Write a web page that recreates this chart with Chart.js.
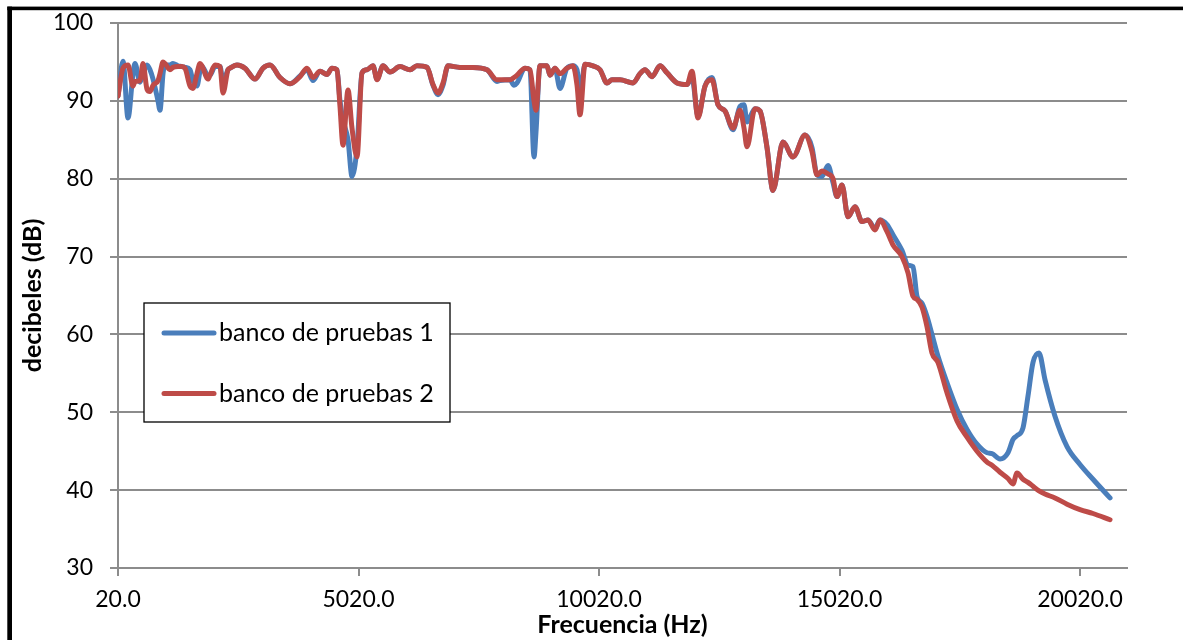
<!DOCTYPE html>
<html>
<head>
<meta charset="utf-8">
<script src="https://cdn.jsdelivr.net/npm/chart.js@4/dist/chart.umd.min.js"></script>
<style>
  html, body { margin: 0; padding: 0; background: #fff; }
  canvas { display: block; }
</style>
</head>
<body>
<canvas id="grafico" width="1183" height="640"></canvas>
<script>
// Frecuencia de cada medición (Hz)
const frecuencias = [
  20, 124, 228, 332, 373, 477, 540, 623, 685, 748,
  852, 893, 956, 997, 1101, 1163, 1267, 1351, 1413, 1517,
  1579, 1662, 1725, 1766, 1891, 1933, 2037, 2141, 2203, 2307,
  2348, 2494, 2660, 2868, 3035, 3180, 3388, 3596, 3804, 3949,
  4074, 4220, 4365, 4469, 4573, 4635, 4698, 4802, 4885, 4989,
  5093, 5197, 5321, 5405, 5529, 5675, 5883, 6091, 6236, 6444,
  6569, 6673, 6777, 6881, 7130, 7400, 7692, 7899, 7962, 8170,
  8253, 8315, 8482, 8585, 8669, 8710, 8793, 8939, 9001, 9105,
  9209, 9355, 9479, 9563, 9625, 9729, 9895, 10041, 10186, 10290,
  10457, 10727, 10872, 10976, 11122, 11288, 11434, 11642, 11850, 11953,
  12078, 12224, 12369, 12494, 12640, 12806, 12951, 13035, 13097, 13263,
  13367, 13513, 13637, 13845, 14053, 14303, 14448, 14552, 14656, 14781,
  14885, 14968, 15072, 15197, 15342, 15488, 15613, 15758, 15862, 16008,
  16132, 16319, 16444, 16548, 16631, 16735, 16839, 16943, 17068, 17255,
  17463, 17671, 17879, 18087, 18190, 18357, 18523, 18627, 18710, 18835,
  18939, 19043, 19168, 19292, 19500, 19750, 20020, 20290, 20644
];

// Nivel medido en el banco de pruebas 1 (dB)
const banco1 = [
  90.6, 95.1, 87.8, 93.5, 94.8, 92.4, 93.5, 94.6, 94.0, 92.8,
  90.0, 88.8, 93.5, 94.6, 94.6, 94.8, 94.5, 94.4, 94.3, 94.0,
  92.5, 91.9, 93.8, 94.4, 93.3, 93.3, 94.4, 94.4, 92.5, 94.0,
  94.2, 94.6, 94.2, 92.8, 94.2, 94.6, 93.0, 92.2, 93.2, 94.0,
  92.6, 93.8, 93.4, 94.2, 94.0, 90.0, 87.5, 85.0, 80.3, 84.0,
  93.6, 94.0, 94.5, 92.8, 94.5, 93.7, 94.4, 94.0, 94.5, 94.3,
  92.0, 90.8, 92.0, 94.5, 94.3, 94.3, 94.0, 92.5, 92.6, 92.7,
  92.0, 92.3, 94.2, 94.0, 82.8, 86.0, 94.5, 94.5, 93.3, 94.2,
  91.6, 94.2, 94.5, 94.0, 91.0, 94.7, 94.5, 94.0, 92.3, 92.7,
  92.7, 92.3, 93.5, 94.0, 93.1, 94.5, 93.6, 92.3, 92.1, 93.0,
  88.0, 91.9, 93.0, 89.5, 88.7, 86.3, 89.3, 89.5, 87.3, 89.0,
  88.7, 84.0, 78.5, 84.7, 82.8, 85.6, 84.0, 80.5, 80.3, 81.7,
  79.5, 77.7, 79.2, 75.1, 76.4, 74.5, 74.7, 73.6, 74.7, 74.1,
  72.8, 70.8, 68.9, 68.7, 64.9, 64.0, 62.3, 60.0, 57.2, 53.8,
  50.4, 47.8, 45.9, 44.8, 44.7, 44.0, 44.8, 46.5, 47.0, 48.0,
  52.1, 56.4, 57.6, 54.2, 49.5, 45.6, 43.3, 41.4, 39.0
];

// Nivel medido en el banco de pruebas 2 (dB)
const banco2 = [
  90.6, 94.2, 94.6, 91.9, 92.5, 92.6, 94.8, 91.5, 91.2, 92.0,
  92.6, 93.5, 95.0, 94.8, 94.0, 94.3, 94.4, 94.4, 94.2, 91.9,
  91.6, 93.5, 94.8, 94.5, 92.8, 93.3, 94.6, 94.4, 91.0, 94.0,
  94.2, 94.6, 94.2, 92.8, 94.2, 94.6, 93.0, 92.2, 93.1, 94.2,
  93.0, 93.8, 93.4, 94.2, 94.0, 89.3, 84.3, 91.4, 86.5, 82.8,
  93.6, 94.0, 94.5, 92.7, 94.5, 93.7, 94.4, 94.0, 94.5, 94.3,
  92.1, 91.0, 92.3, 94.5, 94.3, 94.3, 94.0, 92.7, 92.7, 92.7,
  93.0, 93.3, 94.2, 94.0, 90.0, 88.8, 94.5, 94.5, 93.3, 94.2,
  93.5, 94.2, 94.5, 92.0, 88.2, 94.7, 94.5, 94.0, 92.3, 92.7,
  92.7, 92.3, 93.5, 94.0, 93.1, 94.5, 93.6, 92.3, 92.1, 93.8,
  87.8, 91.9, 92.7, 89.5, 88.7, 86.5, 88.8, 86.5, 84.1, 89.0,
  88.7, 84.0, 78.5, 84.7, 82.8, 85.6, 83.5, 80.5, 81.0, 80.6,
  80.0, 77.7, 79.2, 75.1, 76.4, 74.5, 74.7, 73.4, 74.7, 73.2,
  71.5, 70.0, 67.9, 64.9, 64.5, 63.5, 61.0, 57.6, 56.4, 52.5,
  48.9, 46.8, 45.0, 43.6, 43.2, 42.3, 41.5, 40.8, 42.2, 41.4,
  41.0, 40.5, 39.9, 39.5, 39.0, 38.2, 37.5, 37.0, 36.2
];

// Marcas del eje de frecuencias
const marcasFrecuencia = [20, 5020, 10020, 15020, 20020];
const nombresSeries = ['banco de pruebas 1', 'banco de pruebas 2'];

const fuente = 'Lato, "Open Sans", "DejaVu Sans", sans-serif';
const gris = '#8c8c8c';

const aPuntos = (valores) => frecuencias.map((f, i) => ({ x: f, y: valores[i] }));

// Marco negro del gráfico (borde superior e izquierdo)
const marco = {
  id: 'marco',
  beforeDraw(chart) {
    const ctx = chart.ctx;
    ctx.save();
    ctx.fillStyle = '#fff';
    ctx.fillRect(0, 0, chart.width, chart.height);
    ctx.fillStyle = '#000';
    ctx.fillRect(7.3, 6.6, chart.width - 7.3, 3.6);
    ctx.fillRect(7.3, 6.6, 4.7, chart.height - 6.6);
    ctx.restore();
  }
};

// Leyenda en recuadro dentro del área de trazado
const leyenda = {
  id: 'leyenda',
  afterDatasetsDraw(chart) {
    const ctx = chart.ctx;
    ctx.save();
    ctx.fillStyle = '#fff';
    ctx.fillRect(144, 303, 306, 119);
    ctx.strokeStyle = '#000';
    ctx.lineWidth = 1.3;
    ctx.strokeRect(144, 303, 306, 119);
    chart.data.datasets.forEach((ds, i) => {
      const y = 333 + i * 60.5;
      ctx.strokeStyle = ds.borderColor;
      ctx.lineWidth = 5;
      ctx.lineCap = 'round';
      ctx.beginPath();
      ctx.moveTo(164, y);
      ctx.lineTo(214, y);
      ctx.stroke();
      ctx.fillStyle = '#000';
      ctx.font = '25px ' + fuente;
      ctx.textBaseline = 'middle';
      ctx.fillText(ds.label, 219, y);
    });
    ctx.restore();
  }
};

new Chart(document.getElementById('grafico'), {
  type: 'line',
  data: {
    datasets: [
      {
        label: nombresSeries[0],
        data: aPuntos(banco1),
        borderColor: '#4A7EBB',
        borderWidth: 5,
        order: 1
      },
      {
        label: nombresSeries[1],
        data: aPuntos(banco2),
        borderColor: '#BE4B48',
        borderWidth: 5,
        order: 0
      }
    ]
  },
  options: {
    responsive: false,
    animation: false,
    devicePixelRatio: 1,
    layout: { padding: { left: 0, top: 23, right: 56, bottom: 0 } },
    elements: {
      point: { radius: 0 },
      line: { cubicInterpolationMode: 'monotone', borderCapStyle: 'round', borderJoinStyle: 'round', fill: false }
    },
    plugins: {
      legend: { display: false },
      tooltip: { enabled: false }
    },
    scales: {
      x: {
        type: 'linear',
        min: 20,
        max: 20997,
        afterBuildTicks: (s) => { s.ticks = marcasFrecuencia.map(v => ({ value: v })); },
        afterFit: (s) => { s.height = 72; },
        ticks: {
          callback: (v) => Number(v).toFixed(1),
          font: { family: fuente, size: 23 },
          color: '#000',
          padding: 10,
          maxRotation: 0,
          autoSkip: false
        },
        grid: { drawOnChartArea: false, drawTicks: true, tickLength: 8, color: gris, lineWidth: 2 },
        border: { color: gris, width: 2 },
        title: {
          display: true,
          text: 'Frecuencia (Hz)',
          font: { family: fuente, size: 25, weight: 'bold' },
          color: '#000',
          padding: { top: 0, bottom: 0 }
        }
      },
      y: {
        min: 30,
        max: 100,
        afterFit: (s) => { s.width = 118; s.paddingTop = 0; s.paddingBottom = 0; },
        ticks: {
          stepSize: 10,
          font: { family: fuente, size: 23 },
          color: '#000',
          padding: 17
        },
        grid: { color: gris, lineWidth: 2, tickLength: 8 },
        border: { color: gris, width: 2 },
        title: {
          display: true,
          text: 'decibeles (dB)',
          font: { family: fuente, size: 25, weight: 'bold' },
          color: '#000',
          padding: { top: 18, bottom: 0 }
        }
      }
    }
  },
  plugins: [marco, leyenda]
});
</script>
</body>
</html>
